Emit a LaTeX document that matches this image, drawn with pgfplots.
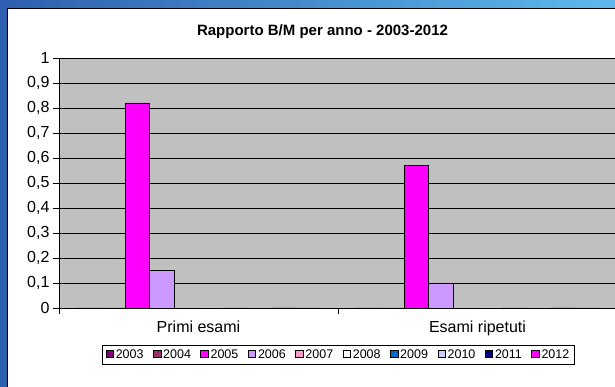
\documentclass[border=0pt]{standalone}
\usepackage{pgfplots}
\pgfplotsset{compat=1.18}
\usepackage{fontspec}
\setmainfont{Liberation Sans}

\definecolor{plotgray}{HTML}{C0C0C0}
\definecolor{bgleft}{HTML}{2F60B0}
\definecolor{bgright}{HTML}{5CB8EA}
\definecolor{y2003}{HTML}{800080}
\definecolor{y2004}{HTML}{993366}
\definecolor{y2005}{HTML}{FF00FF}
\definecolor{y2006}{HTML}{CC99FF}
\definecolor{y2007}{HTML}{FF99CC}
\definecolor{y2008}{HTML}{FFFFFF}
\definecolor{y2009}{HTML}{0066CC}
\definecolor{y2010}{HTML}{CCCCFF}
\definecolor{y2011}{HTML}{000080}
\definecolor{y2012}{HTML}{FF00FF}

\begin{document}
\begin{tikzpicture}[x=1pt,y=1pt]
% slide background (stepped gradient) and chart area
\fill[bgleft] (0,0) rectangle (615,387);
\foreach \i in {0,...,40}{
  \pgfmathsetmacro\p{\i*2.5}
  \fill[bgright!\p!bgleft] (\i*15,370) rectangle (\i*15+15.5,387);
}
\fill[white] (7,0) rectangle (615,378);
\draw[black, line width=1pt] (7,0) -- (7,378) -- (615,378);
\node[font=\bfseries\fontsize{15}{18}\selectfont] at (322.5,355) {Rapporto B/M per anno - 2003-2012};

\begin{axis}[
  at={(59pt,79pt)}, anchor=south west,
  scale only axis, width=558pt, height=250pt,
  xmin=-0.5, xmax=1.5, ymin=0, ymax=1,
  ybar=0pt, bar width=24.4pt,
  axis background/.style={fill=plotgray},
  axis lines*=left,
  axis line style={black, line width=0.9pt},
  tick align=outside, major tick length=6pt,
  tick style={black, line width=0.9pt},
  ytick={0,0.1,0.2,0.3,0.4,0.5,0.6,0.7,0.8,0.9,1},
  yticklabel style={/pgf/number format/.cd, use comma, fixed, precision=1, assume math mode=true},
  ymajorgrids, major grid style={black, line width=0.8pt},
  xtick={-0.5,0.5,1.5}, xticklabels={},
  extra x ticks={0,1},
  extra x tick labels={Primi esami, Esami ripetuti},
  extra x tick style={major tick length=0pt, xticklabel style={yshift=-9pt}},
  tick label style={font=\fontsize{16}{19}\selectfont},
  legend image code/.code={\draw[#1, draw=black, line width=0.6pt] (0pt,-3pt) rectangle (7.5pt,4.5pt);},
  legend columns=10,
  legend style={at={(axis description cs:0.5009,-0.186)}, anchor=center,
    draw=black, line width=0.6pt, fill=white,
    font=\fontsize{12.5}{15}\selectfont,
    inner xsep=3pt, inner ysep=2.5pt,
    /tikz/every odd column/.append style={column sep=0pt},
    /tikz/every even column/.append style={column sep=7.5pt}},
  every axis plot/.append style={draw=black, line width=0.8pt},
]
\addplot[fill=y2003] coordinates {(0,0) (1,0)};
\addplot[fill=y2004] coordinates {(0,0) (1,0)};
\addplot[fill=y2005] coordinates {(0,0.82) (1,0.57)};
\addplot[fill=y2006] coordinates {(0,0.15) (1,0.10)};
\addplot[fill=y2007] coordinates {(0,0) (1,0)};
\addplot[fill=y2008] coordinates {(0,0) (1,0)};
\addplot[fill=y2009] coordinates {(0,0) (1,0)};
\addplot[fill=y2010] coordinates {(0,0) (1,0)};
\addplot[fill=y2011] coordinates {(0,0) (1,0)};
\addplot[fill=y2012] coordinates {(0,0) (1,0)};
\legend{2003,2004,2005,2006,2007,2008,2009,2010,2011,2012}
\end{axis}
\pgfresetboundingbox
\path[use as bounding box] (0,0) rectangle (615,387);
\end{tikzpicture}
\end{document}
